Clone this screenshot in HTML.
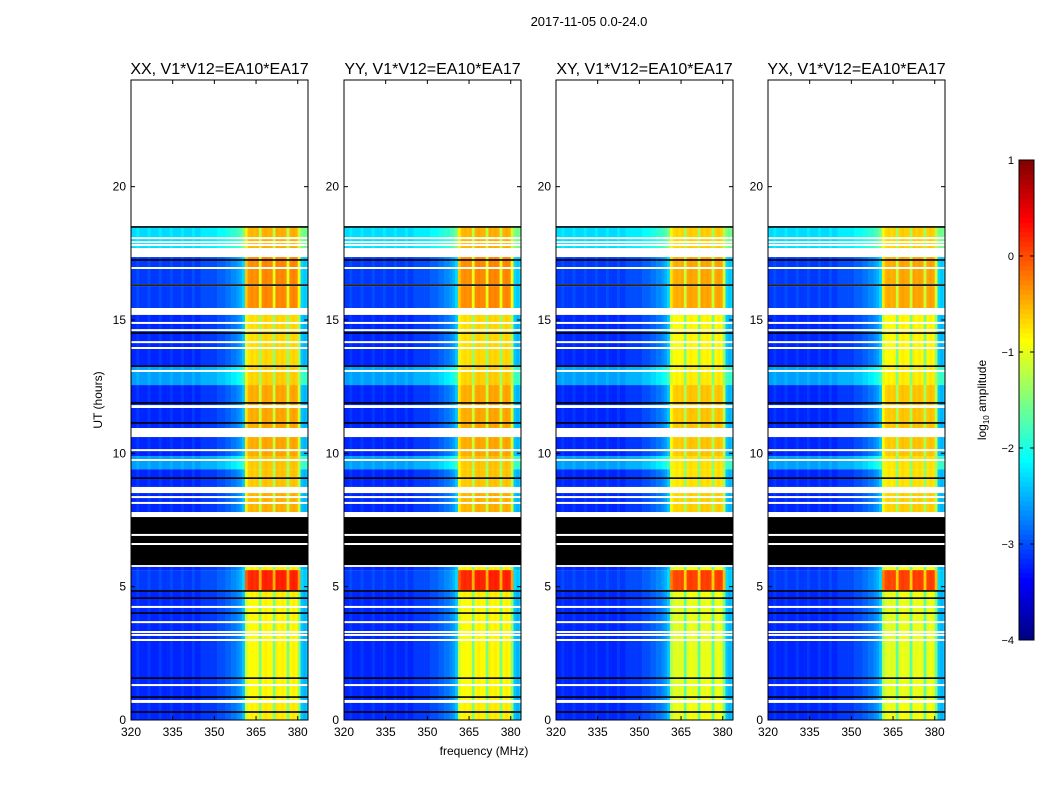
<!DOCTYPE html>
<html><head><meta charset="utf-8"><style>
body{margin:0;background:#fff;}
svg text{font-family:"Liberation Sans","DejaVu Sans",sans-serif;fill:#000;}
</style></head><body>
<svg id="chart" width="1050" height="800" viewBox="0 0 1050 800" xmlns="http://www.w3.org/2000/svg">
<rect x="0" y="0" width="1050" height="800" fill="#fff"/>
<text x="589" y="26" font-size="13" text-anchor="middle">2017-11-05 0.0-24.0</text>
<text x="484" y="755" font-size="12" text-anchor="middle">frequency (MHz)</text>
<text x="102" y="400" font-size="12" text-anchor="middle" transform="rotate(-90 102 400)">UT (hours)</text>
<g id="panels"></g>
<g id="cbar"></g>
<text x="986" y="400" font-size="12" text-anchor="middle" transform="rotate(-90 986 400)">log<tspan font-size="8" dy="3">10</tspan><tspan dy="-3"> amplitude</tspan></text>
</svg>
<script>
// ---- data ----
const panelTitles = ["XX, V1*V12=EA10*EA17","YY, V1*V12=EA10*EA17","XY, V1*V12=EA10*EA17","YX, V1*V12=EA10*EA17"];
const panelLeft = [131, 344, 556, 768];
const panelBandOffset = [0, 0, -0.15, -0.15];
const freqBins = [];
for (let f = 320; f < 384; f++) freqBins.push(f);
// base log10 amplitude per 1 MHz bin (320..383)
const freqBase = [
-3.2,-3.2,-3.1,-3.2,-3.2,-3.2,-3.1,-3.2,-3.2,-3.2,
-3.1,-3.2,-3.2,-3.2,-3.1,-3.2,-3.2,-3.2,-3.1,-3.2,
-3.2,-3.2,-3.1,-3.2,-3.2,-3.1,-3.1,-3.1,-3.1,-3.1,
-3.1,-3.0,-3.0,-3.0,-2.9,-2.9,-2.8,-2.8,-2.7,-2.6,
-2.4,-1.1,-0.85,-0.8,-0.85,-0.8,-1.5,-0.8,-0.75,-0.8,
-0.8,-1.5,-0.75,-0.8,-0.75,-0.8,-1.5,-0.8,-0.75,-0.8,
-1.4,-2.4,-2.5,-2.4];
const yTicks = [0,5,10,15,20];
const xTicks = [320,335,350,365,380];
const cbarTicks = [1,0,-1,-2,-3,-4];
// time segments: [startHour, endHour, type, leftOffset, bandOffset]
const segStart = [18.49,17.70,17.36,15.45,15.19,13.27,12.56,11.81,11.70,10.95,10.61,9.90,9.40,8.74,8.51,7.80,7.61,5.81,5.74,5.62,4.87,4.57,0.75,0.64,0.00];
const segEnd   = [24.00,18.49,17.70,17.36,15.45,15.19,13.27,12.56,11.81,11.70,10.95,10.61,9.90,9.40,8.74,8.51,7.80,7.61,5.81,5.74,5.62,4.87,4.57,0.75,0.64];
const segType  = ["blank","data","blank","data","blank","data","data","data","blank","data","blank","data","data","data","blank","data","blank","black","blank","data","data","data","data","blank","data"];
const segLeft  = [0,0.9,0,0.1,0,0,0.6,0,0,0,0,0,0.6,0,0,0,0,0,0,0,0.1,0,0.0,0,0];
const segBand  = [0,0.3,0,0.5,0,0.1,0.15,0.35,0,0.35,0,0.35,0.2,0.2,0,0.3,0,0,0,0,1.0,0,-0.05,0,0];
const whiteLines = [18.07,17.92,17.81,16.95,16.31,14.89,14.62,14.17,13.95,13.09,10.12,9.75,8.36,8.14,6.94,6.60,4.24,3.67,3.30,3.19,3.00,1.31];
const blackLines = [18.49,17.25,16.31,14.51,13.27,11.89,11.14,9.07,4.84,4.57,4.01,1.57,0.86,0.30];

// ---- scales ----
const PT = 80, PB = 720, PW = 177, FMIN = 320, FMAX = 383.7;
const yS = h => PB - (h / 24) * (PB - PT);
const xS = (f, L) => L + (f - FMIN) / (FMAX - FMIN) * PW;
function jet(v){
  let t = Math.max(0, Math.min(1, (v + 4) / 5));
  const c = x => Math.max(0, Math.min(1, x));
  const r = c(Math.min(4*t-1.5, -4*t+4.5)), g = c(Math.min(4*t-0.5, -4*t+3.5)), b = c(Math.min(4*t+0.5, -4*t+2.5));
  return `rgb(${Math.round(r*255)},${Math.round(g*255)},${Math.round(b*255)})`;
}
const NS = "http://www.w3.org/2000/svg";
function mk(tag, attrs, parent){
  const e = document.createElementNS(NS, tag);
  for (const k in attrs) e.setAttribute(k, attrs[k]);
  parent.appendChild(e); return e;
}
const panels = document.getElementById('panels');
panelTitles.forEach((title, p) => {
  const L = panelLeft[p];
  const g = mk('g', {}, panels);
  
  
  for (let s = 0; s < segStart.length; s++) {
    const y1 = yS(segEnd[s]), y2 = yS(segStart[s]);
    if (segType[s] === 'blank') continue;
    if (segType[s] === 'black') {
      const r = mk('rect', {x:L, y:y1, width:PW, height:y2-y1, fill:'#000'}, g);
      
      
      continue;
    }
    for (let i = 0; i < freqBins.length; i++) {
      const base = freqBase[i];
      const inBand = base > -2.0;
      let v = base + (inBand ? segBand[s] + panelBandOffset[p] : segLeft[s]);
      const x1 = xS(freqBins[i], L), x2 = Math.min(xS(freqBins[i] + 1, L), L + PW);
      const r = mk('rect', {x:x1, y:y1, width:x2-x1+0.3, height:y2-y1, fill:jet(v)}, g);
      
      
    }
  }
  whiteLines.forEach(h => {
    const r = mk('rect', {x:L, y:yS(h)-1, width:PW, height:2, fill:'#fff'}, g);
    
    
  });
  blackLines.forEach(h => {
    const r = mk('rect', {x:L, y:yS(h)-0.8, width:PW, height:1.6, fill:'#000'}, g);
    
    
  });
  const fr = mk('rect', {x:L, y:PT, width:PW, height:PB-PT, fill:'none', stroke:'#000', 'stroke-width':1}, g);
  
  
  const t = mk('text', {x:L+PW/2, y:74, 'font-size':16, 'text-anchor':'middle'}, g);
  t.textContent = title;
  
  
  yTicks.forEach(h => {
    const y = yS(h);
    mk('line', {x1:L, x2:L+4, y1:y, y2:y, stroke:'#000'}, g);
    mk('line', {x1:L+PW-4, x2:L+PW, y1:y, y2:y, stroke:'#000'}, g);
    const tl = mk('text', {x:L-5, y:y+4, 'font-size':12, 'text-anchor':'end'}, g);
    tl.textContent = h;
    
    
  });
  xTicks.forEach(f => {
    const x = xS(f, L);
    mk('line', {x1:x, x2:x, y1:PB, y2:PB-4, stroke:'#000'}, g);
    mk('line', {x1:x, x2:x, y1:PT, y2:PT+4, stroke:'#000'}, g);
    const tl = mk('text', {x:x, y:PB+16, 'font-size':12, 'text-anchor':'middle'}, g);
    tl.textContent = f;
    
    
  });
});
// colorbar
const cb = document.getElementById('cbar');
const CX = 1019, CW = 15, CT = 160, CB = 640;
const cyS = v => CB - (v + 4) / 5 * (CB - CT);
for (let k = 0; k < 100; k++) {
  const v0 = -4 + k * 0.05;
  const r = mk('rect', {x:CX, y:cyS(v0+0.05), width:CW, height:(CB-CT)/100+0.5, fill:jet(v0+0.025)}, cb);
  
  
}
const cf = mk('rect', {x:CX, y:CT, width:CW, height:CB-CT, fill:'none', stroke:'#000'}, cb);


cbarTicks.forEach(v => {
  const y = cyS(v);
  mk('line', {x1:CX, x2:CX+4, y1:y, y2:y, stroke:'#000'}, cb);
  mk('line', {x1:CX+CW-4, x2:CX+CW, y1:y, y2:y, stroke:'#000'}, cb);
  const tl = mk('text', {x:CX-5, y:y+4, 'font-size':11, 'text-anchor':'end'}, cb);
  tl.textContent = v < 0 ? '\u2212' + Math.abs(v) : String(v);
  
  
});
</script>
</body></html>
